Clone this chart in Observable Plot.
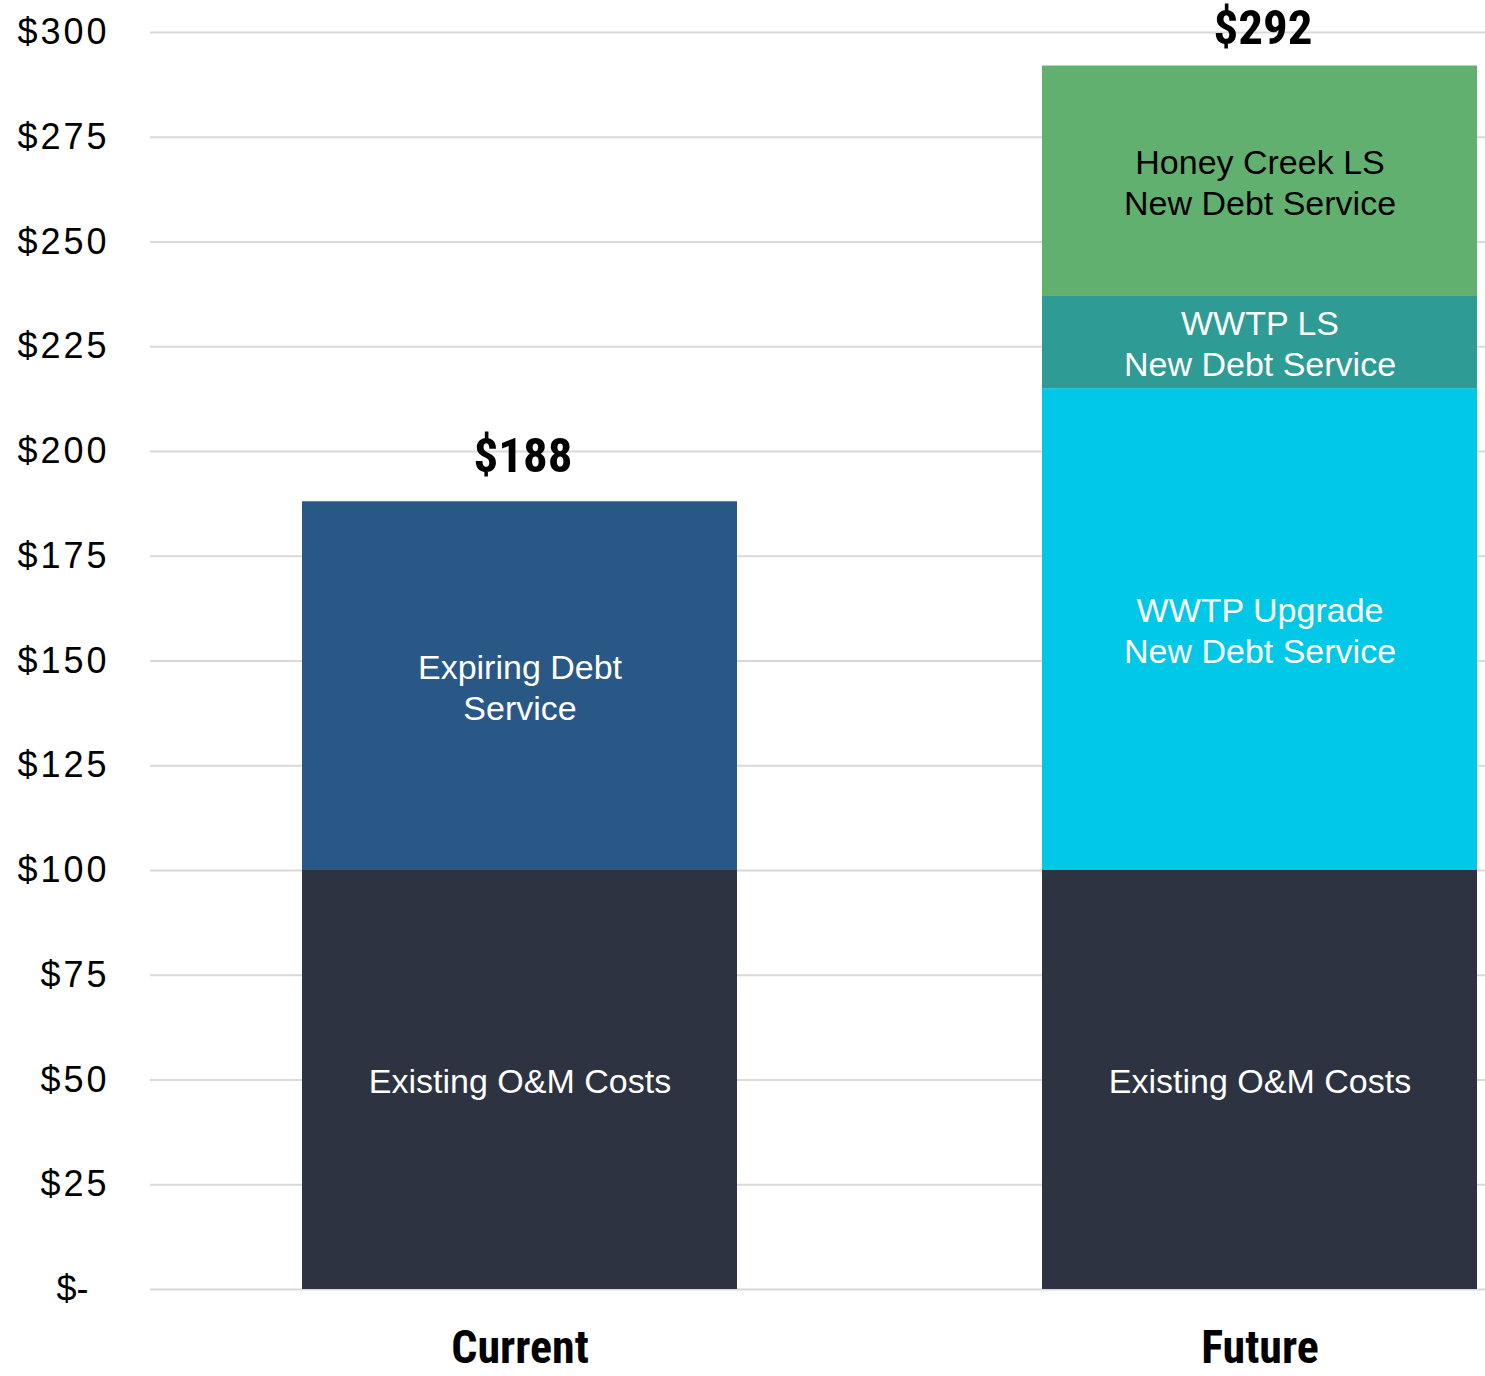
<!DOCTYPE html>
<html>
<head>
<meta charset="utf-8">
<script src="https://cdn.jsdelivr.net/npm/d3@7"></script>
<script src="https://cdn.jsdelivr.net/npm/@observablehq/plot@0.6"></script>
<style>
  html, body { margin: 0; padding: 0; background: #fff; }
  #chart svg { display: block; }
</style>
</head>
<body>
<div id="chart"></div>
<script>
const categories = ["Current", "Future"];
const segments = [
  "Existing O&M Costs",
  "Expiring Debt\nService",
  "WWTP Upgrade\nNew Debt Service",
  "WWTP LS\nNew Debt Service",
  "Honey Creek LS\nNew Debt Service"
];
const segmentColors = ["#2d3340", "#2a5886", "#00c8e6", "#2e9b94", "#61b06f"];
const segmentTextColors = ["white", "white", "white", "white", "black"];
const currentValues = [100, 88, 0, 0, 0];
const futureValues = [100, 0, 115, 22, 55];
const totals = [188, 292];
const yTicks = [0, 25, 50, 75, 100, 125, 150, 175, 200, 225, 250, 275, 300];

const rows = [];
[currentValues, futureValues].forEach((vals, ci) => {
  vals.forEach((v, si) => {
    if (v > 0) rows.push({cat: categories[ci], seg: segments[si], value: v, color: segmentColors[si], tcolor: segmentTextColors[si]});
  });
});
const totalRows = categories.map((c, i) => ({cat: c, total: totals[i]}));

const sansFont = "'Liberation Sans', Arial, sans-serif";
const boldFont = "'Liberation Sans Narrow', 'Roboto Condensed', 'Liberation Sans', Arial, sans-serif";

const totalOpts = {x: "cat", y: "total", text: d => "$" + d.total, dx: 3,
  fontSize: 49, fontWeight: "bold", fontFamily: boldFont, fill: "black"};

const chart = Plot.plot({
  width: 1485,
  height: 1376,
  marginTop: 32,
  marginBottom: 87,
  marginLeft: 150,
  marginRight: 0,
  style: {background: "white", fontFamily: sansFont},
  x: {domain: categories, range: [301, 1478], paddingInner: 0.4116, paddingOuter: 0, axis: null},
  y: {domain: [0, 300], axis: null},
  marks: [
    Plot.ruleY(yTicks, {stroke: "#d9d9d9", strokeWidth: 2}),
    Plot.barY(rows, Plot.stackY({x: "cat", y: "value", fill: "color", order: null})),
    Plot.text(rows, Plot.stackY({x: "cat", y: "value", text: "seg", fill: "tcolor", order: null,
      fontSize: 34, lineHeight: 1.2, fontFamily: sansFont})),
    Plot.text(totalRows.filter(d => d.cat === "Current"), {...totalOpts, dy: -45}),
    Plot.text(totalRows.filter(d => d.cat === "Future"), {...totalOpts, dy: -38}),
    Plot.text(yTicks.filter(d => d !== 0), {y: d => d, text: d => "$" + d, frameAnchor: "left", dx: -41,
      textAnchor: "end", fontSize: 36, fill: "black", fontFamily: sansFont}),
    Plot.text([0], {y: d => d, text: d => "$-", frameAnchor: "left", dx: -62,
      textAnchor: "end", fontSize: 36, fill: "black", fontFamily: sansFont}),
    Plot.text(categories, {x: d => d, text: d => d, frameAnchor: "bottom", dy: 73,
      fontSize: 46, fontWeight: "bold", fontFamily: boldFont, fill: "black"})
  ]
});
// widen tick label spacing slightly to match the reference's wider numerals
d3.select(chart).selectAll("text").filter(function() {
  return /^\$\d+$/.test(this.textContent) && this.getAttribute("font-size") == null && +this.closest("g").getAttribute("font-size") === 36;
}).attr("letter-spacing", "3px");
document.getElementById("chart").appendChild(chart);
</script>
</body>
</html>
